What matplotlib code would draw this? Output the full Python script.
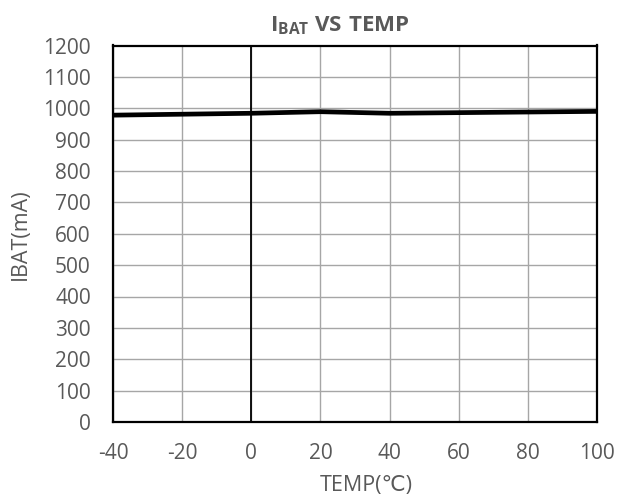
import matplotlib
matplotlib.use('Agg')
from matplotlib import pyplot as plt

# data
temp = [-40, -20, 0, 20, 40, 60, 80, 100]
ibat = [978, 981, 984, 989, 984, 986, 988, 990]

xticks = [-40, -20, 0, 20, 40, 60, 80, 100]
yticks = list(range(0, 1201, 100))

plt.rcParams['font.family'] = ['Open Sans', 'DejaVu Sans']
plt.rcParams['axes.unicode_minus'] = False
plt.rcParams['mathtext.fontset'] = 'custom'
plt.rcParams['mathtext.bf'] = 'Open Sans:bold'
plt.rcParams['mathtext.rm'] = 'Open Sans'

txt = '#595959'
W, H = 618, 503

fig = plt.figure(figsize=(6.18, 5.03), dpi=100)
ax = fig.add_axes([113 / W, 1 - 422 / H, 484 / W, 376.5 / H])

ax.plot(temp, ibat, color='black', lw=3.4, solid_capstyle='butt', zorder=3)

ax.set_xlim(-40, 100)
ax.set_ylim(0, 1200)
ax.set_xticks(xticks)
ax.set_yticks(yticks)
ax.grid(True, color='#a6a6a6', lw=1.0)
ax.axvline(0, color='black', lw=1.3, zorder=2)
for s in ax.spines.values():
    s.set_color('black')
    s.set_linewidth(1.6)
ax.tick_params(length=0, labelsize=15, labelcolor=txt)
ax.tick_params(axis='y', pad=16)
ax.tick_params(axis='x', pad=15)

# axis titles and chart title placed like the Excel original
fig.text(366 / W, 1 - 485 / H, 'TEMP(℃)', fontsize=15.5, color=txt,
         ha='center', va='center')
fig.text(20 / W, 1 - 234 / H, 'IBAT(mA)', fontsize=15.5, color=txt,
         ha='center', va='center', rotation=90)
fig.text(340 / W, 1 - 31 / H, r'$\mathbf{I_{BAT}}$ $\mathbf{VS\ TEMP}$',
         fontsize=16, color=txt, ha='center', va='baseline')

fig.savefig('out.png', dpi=100)
